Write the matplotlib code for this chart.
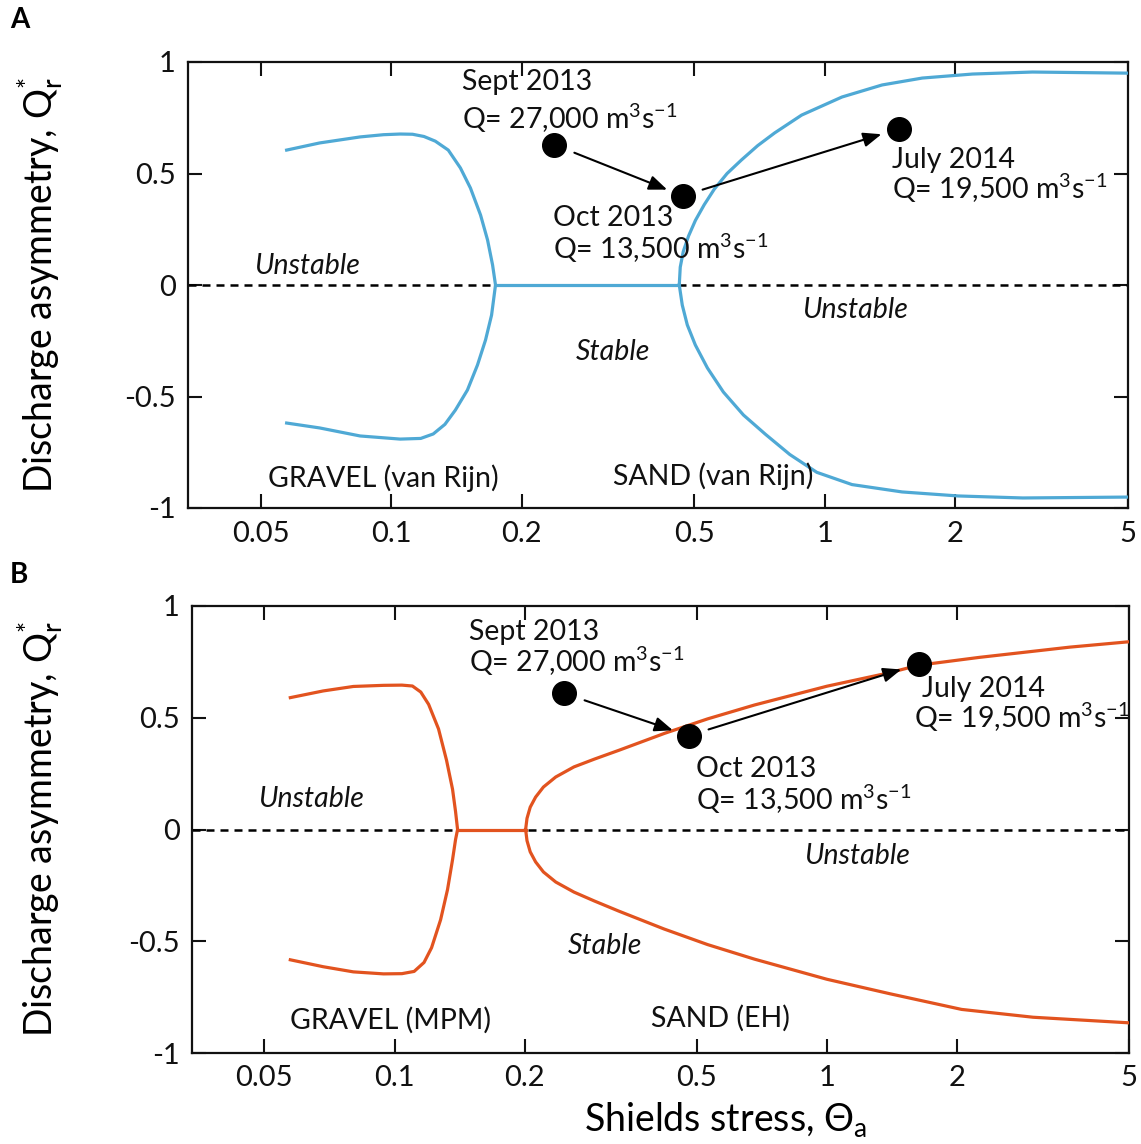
import matplotlib
matplotlib.use('Agg')
import matplotlib.pyplot as plt
from matplotlib.ticker import NullLocator

plt.rcParams['font.family'] = ['Lato', 'DejaVu Sans']
plt.rcParams['mathtext.fontset'] = 'custom'
plt.rcParams['mathtext.rm'] = 'Lato'
plt.rcParams['mathtext.it'] = 'Lato:italic'
plt.rcParams['mathtext.bf'] = 'Lato:bold'
plt.rcParams['axes.unicode_minus'] = False

# ---------------- data ----------------
x_ticks = [0.05, 0.1, 0.2, 0.5, 1, 2, 5]
x_ticklabels = ['0.05', '0.1', '0.2', '0.5', '1', '2', '5']
y_ticks = [-1, -0.5, 0, 0.5, 1]
y_ticklabels = ['-1', '-0.5', '0', '0.5', '1']

# Panel A (van Rijn)
gravelA_x = [0.0574, 0.0684, 0.0848, 0.0960, 0.1049, 0.1120, 0.1190, 0.1264, 0.1354, 0.1444, 0.1523, 0.1607,
             0.1668, 0.1713, 0.174,
             0.1704, 0.165, 0.1581, 0.1499, 0.1406, 0.1330, 0.1250, 0.1170, 0.1049, 0.0848, 0.0684, 0.0574]
gravelA_y = [0.605, 0.637, 0.664, 0.674, 0.677, 0.676, 0.666, 0.645, 0.605, 0.525, 0.435, 0.314,
             0.202, 0.090, 0.0,
             -0.135, -0.247, -0.359, -0.471, -0.561, -0.625, -0.668, -0.688, -0.691, -0.677, -0.641, -0.619]
stableA_x = [0.174, 0.4616]
stableA_y = [0.0, 0.0]
sandA_up_x = [0.4616, 0.464, 0.4715, 0.485, 0.503, 0.527, 0.556, 0.595, 0.6424, 0.70, 0.766, 0.884,
              1.095, 1.355, 1.677, 2.19, 3.01, 5.0]
sandA_up_y = [0.0, 0.08, 0.15, 0.22, 0.29, 0.36, 0.43, 0.50, 0.561, 0.625, 0.682, 0.762,
              0.843, 0.897, 0.928, 0.946, 0.955, 0.950]
sandA_lo_x = [0.4616, 0.469, 0.4817, 0.5027, 0.536, 0.5834, 0.649, 0.73, 0.83, 0.958, 1.155, 1.507,
              2.03, 2.86, 5.0]
sandA_lo_y = [0.0, -0.09, -0.179, -0.269, -0.372, -0.480, -0.583, -0.67, -0.76, -0.84, -0.895, -0.928,
              -0.946, -0.955, -0.951]

# Panel B (MPM / EH)
gravelB_x = [0.0574, 0.0684, 0.0803, 0.0943, 0.1040, 0.1100, 0.1150, 0.1199, 0.1264, 0.1319, 0.1362, 0.1384,
             0.1399,
             0.1384, 0.1362, 0.1326, 0.1278, 0.1218, 0.1170, 0.1110, 0.1040, 0.0943, 0.0803, 0.0684, 0.0574]
gravelB_y = [0.59, 0.62, 0.64, 0.645, 0.646, 0.642, 0.615, 0.56, 0.45, 0.31, 0.18, 0.08,
             0.0,
             -0.045, -0.135, -0.269, -0.404, -0.529, -0.595, -0.635, -0.645, -0.646, -0.637, -0.614, -0.583]
stableB_x = [0.1399, 0.201]
stableB_y = [0.0, 0.0]
sandB_up_x = [0.201, 0.2025, 0.206, 0.212, 0.221, 0.236, 0.26, 0.29, 0.331, 0.421, 0.53, 0.68, 1.0, 1.4,
              1.63, 2.25, 3.65, 5.0]
sandB_up_y = [0.0, 0.05, 0.10, 0.145, 0.19, 0.235, 0.28, 0.315, 0.355, 0.43, 0.495, 0.557, 0.641, 0.702,
              0.735, 0.77, 0.816, 0.84]
sandB_lo_x = [0.201, 0.2025, 0.206, 0.212, 0.221, 0.236, 0.26, 0.29, 0.33, 0.42, 0.53, 0.68, 1.0, 1.4,
              2.05, 3.0, 5.0]
sandB_lo_y = [0.0, -0.05, -0.10, -0.145, -0.19, -0.235, -0.28, -0.32, -0.365, -0.445, -0.515, -0.58,
              -0.67, -0.735, -0.805, -0.84, -0.865]

# observations (Sept 2013, Oct 2013, July 2014)
obsA_x = [0.237, 0.47, 1.48]
obsA_y = [0.63, 0.40, 0.70]
obsB_x = [0.246, 0.479, 1.63]
obsB_y = [0.61, 0.42, 0.74]

obs_dates = ['Sept 2013', 'Oct 2013', 'July 2014']
obs_Q = [r'Q= 27,000 m$^3$s$^{-1}$', r'Q= 13,500 m$^3$s$^{-1}$', r'Q= 19,500 m$^3$s$^{-1}$']

blue = '#4fa9d5'
red = '#e2531f'

fig = plt.figure(figsize=(11.41, 11.44), dpi=100)
W, H = 1141, 1144
axA = fig.add_axes([188 / W, 1 - 508 / H, 940 / W, 446 / H])
axB = fig.add_axes([192 / W, 1 - 1053 / H, 937 / W, 447 / H])

TFS = 20.5


def style(ax):
    ax.set_xscale('log')
    ax.set_xlim(0.034, 5)
    ax.set_ylim(-1, 1)
    ax.set_xticks(x_ticks)
    ax.set_xticklabels(x_ticklabels)
    ax.xaxis.set_minor_locator(NullLocator())
    ax.set_yticks(y_ticks)
    ax.set_yticklabels(y_ticklabels)
    ax.tick_params(direction='in', top=True, right=True, length=10, width=1.5,
                   labelsize=21, pad=9, colors='#111111')
    for s in ax.spines.values():
        s.set_linewidth(1.6)
        s.set_color('#111111')
    ax.axhline(0, color='black', lw=1.8, ls=(0, (3.2, 2.4)), zorder=2)
    ax.set_ylabel(r'Discharge asymmetry, Q$_{\mathregular{r}}^{*}$', fontsize=27)


for ax, col, gx, gy, stx, sty, ux, uy, lx, ly, ox, oy in [
        (axA, blue, gravelA_x, gravelA_y, stableA_x, stableA_y, sandA_up_x, sandA_up_y,
         sandA_lo_x, sandA_lo_y, obsA_x, obsA_y),
        (axB, red, gravelB_x, gravelB_y, stableB_x, stableB_y, sandB_up_x, sandB_up_y,
         sandB_lo_x, sandB_lo_y, obsB_x, obsB_y)]:
    style(ax)
    ax.plot(gx, gy, color=col, lw=2.3, zorder=3, solid_joinstyle='round')
    ax.plot(stx, sty, color=col, lw=2.3, zorder=3)
    ax.plot(ux, uy, color=col, lw=2.3, zorder=3, solid_joinstyle='round')
    ax.plot(lx, ly, color=col, lw=2.3, zorder=3, solid_joinstyle='round')
    ax.plot(ox, oy, 'o', color='black', ms=17, zorder=5, ls='none')
    # arrows Sept->Oct->July
    ax.annotate('', xy=(ox[1], oy[1]), xytext=(ox[0], oy[0]),
                arrowprops=dict(arrowstyle='-|>,head_length=0.55,head_width=0.22', color='black',
                                lw=1.5, shrinkA=16, shrinkB=12, mutation_scale=20), zorder=4)
    ax.annotate('', xy=(ox[2], oy[2]), xytext=(ox[1], oy[1]),
                arrowprops=dict(arrowstyle='-|>,head_length=0.55,head_width=0.22', color='black',
                                lw=1.5, shrinkA=15, shrinkB=13, mutation_scale=20), zorder=4)

axA.yaxis.set_label_coords(-0.132, 0.5)
axB.yaxis.set_label_coords(-0.137, 0.5)
axB.set_xlabel(r'Shields stress, $\Theta_{\mathregular{a}}$', fontsize=27)
axB.xaxis.set_label_coords(0.57, -0.105)


def txt(ax, x, y, s, **kw):
    ax.text(x, y, s, fontsize=TFS, va='center', ha='left', color='#111111', zorder=6, **kw)


# Panel A labels
txt(axA, 0.146, 0.91, obs_dates[0])
txt(axA, 0.146, 0.749, obs_Q[0])
txt(axA, 0.236, 0.30, obs_dates[1])
txt(axA, 0.236, 0.166, obs_Q[1])
txt(axA, 1.43, 0.56, obs_dates[2])
txt(axA, 1.43, 0.435, obs_Q[2])
txt(axA, 0.0484, 0.085, 'Unstable', style='italic')
txt(axA, 0.884, -0.112, 'Unstable', style='italic')
txt(axA, 0.266, -0.30, 'Stable', style='italic')
txt(axA, 0.0519, -0.865, 'GRAVEL (van Rijn)')
txt(axA, 0.325, -0.857, 'SAND (van Rijn)')

# Panel B labels
txt(axB, 0.149, 0.883, obs_dates[0])
txt(axB, 0.149, 0.753, obs_Q[0])
txt(axB, 0.497, 0.269, obs_dates[1])
txt(axB, 0.497, 0.135, obs_Q[1])
txt(axB, 1.66, 0.628, obs_dates[2])
txt(axB, 1.59, 0.502, obs_Q[2])
txt(axB, 0.0484, 0.135, 'Unstable', style='italic')
txt(axB, 0.884, -0.117, 'Unstable', style='italic')
txt(axB, 0.252, -0.52, 'Stable', style='italic')
txt(axB, 0.0574, -0.852, 'GRAVEL (MPM)')
txt(axB, 0.393, -0.843, 'SAND (EH)')

fig.text(10 / W, 1 - 20 / H, 'A', fontsize=20, fontweight='bold', va='center', ha='left')
fig.text(10 / W, 1 - 575 / H, 'B', fontsize=20, fontweight='bold', va='center', ha='left')

fig.savefig('out.png', dpi=100)
